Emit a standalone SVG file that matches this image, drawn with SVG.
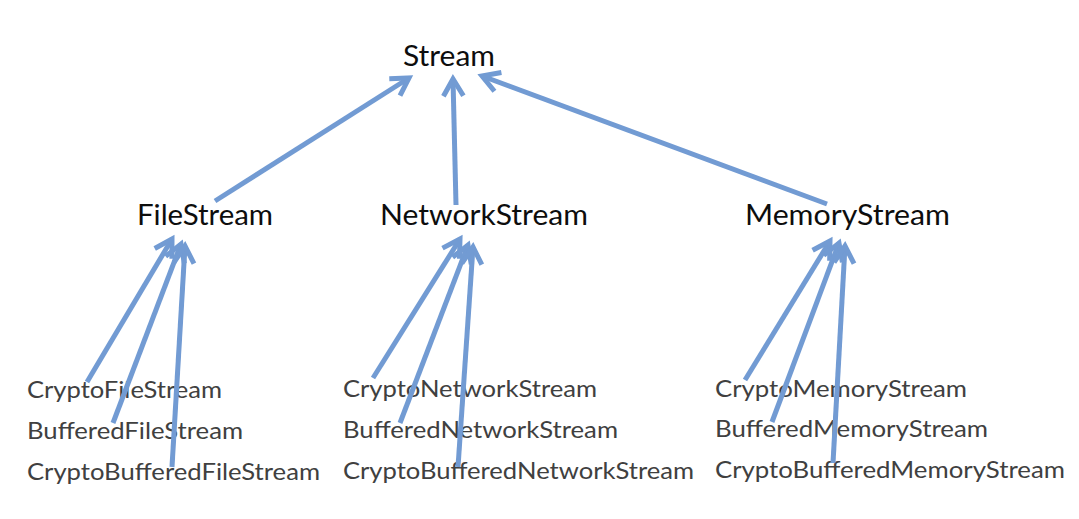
<svg xmlns="http://www.w3.org/2000/svg" width="1079" height="519" viewBox="0 0 1079 519">
<style>
text{font-family:Lato,"Liberation Sans",sans-serif}
.top{font-size:28px;fill:#0d0d0d}
.sub{font-size:23px;fill:#404040}
.c{stroke:#729bd3;stroke-width:5;fill:none;stroke-linecap:butt}
</style>
<defs>
<marker id="ah" markerUnits="userSpaceOnUse" markerWidth="30" markerHeight="30" viewBox="-22 -15 30 30" refX="0" refY="0" orient="auto">
<path d="M-17,-10 L0,0 L-17,10" fill="none" stroke="#729bd3" stroke-width="5" stroke-linejoin="miter"/>
</marker>
</defs>
<rect width="1079" height="519" fill="#ffffff"/>
<g id="stream"><text class="top" x="403" y="66" textLength="92" lengthAdjust="spacingAndGlyphs">Stream</text></g>
<g id="filestream"><text class="top" x="137" y="225" textLength="136" lengthAdjust="spacingAndGlyphs">FileStream</text></g>
<g id="networkstream"><text class="top" x="380" y="225" textLength="208" lengthAdjust="spacingAndGlyphs">NetworkStream</text></g>
<g id="memorystream"><text class="top" x="745" y="225" textLength="205" lengthAdjust="spacingAndGlyphs">MemoryStream</text></g>
<g id="cryptofilestream"><text class="sub" x="27" y="398" textLength="195" lengthAdjust="spacingAndGlyphs">CryptoFileStream</text></g>
<g id="bufferedfilestream"><text class="sub" x="27" y="439" textLength="216" lengthAdjust="spacingAndGlyphs">BufferedFileStream</text></g>
<g id="cryptobufferedfilestream"><text class="sub" x="27" y="480" textLength="293" lengthAdjust="spacingAndGlyphs">CryptoBufferedFileStream</text></g>
<g id="cryptonetworkstream"><text class="sub" x="343" y="397" textLength="254" lengthAdjust="spacingAndGlyphs">CryptoNetworkStream</text></g>
<g id="bufferednetworkstream"><text class="sub" x="343" y="438" textLength="275" lengthAdjust="spacingAndGlyphs">BufferedNetworkStream</text></g>
<g id="cryptobufferednetworkstream"><text class="sub" x="343" y="479" textLength="351" lengthAdjust="spacingAndGlyphs">CryptoBufferedNetworkStream</text></g>
<g id="cryptomemorystream"><text class="sub" x="715" y="397" textLength="252" lengthAdjust="spacingAndGlyphs">CryptoMemoryStream</text></g>
<g id="bufferedmemorystream"><text class="sub" x="715" y="437" textLength="273" lengthAdjust="spacingAndGlyphs">BufferedMemoryStream</text></g>
<g id="cryptobufferedmemorystream"><text class="sub" x="715" y="478" textLength="350" lengthAdjust="spacingAndGlyphs">CryptoBufferedMemoryStream</text></g>
<g id="connectors">
<line class="c" x1="215" y1="201" x2="409" y2="78" marker-end="url(#ah)"/>
<line class="c" x1="456" y1="205" x2="453" y2="79" marker-end="url(#ah)"/>
<line class="c" x1="827" y1="204" x2="482" y2="76" marker-end="url(#ah)"/>
<line class="c" x1="87" y1="382" x2="172" y2="239" marker-end="url(#ah)"/>
<line class="c" x1="113" y1="423" x2="181" y2="244" marker-end="url(#ah)"/>
<line class="c" x1="172" y1="467" x2="185" y2="246" marker-end="url(#ah)"/>
<line class="c" x1="373" y1="378" x2="460" y2="239" marker-end="url(#ah)"/>
<line class="c" x1="400" y1="423" x2="468" y2="245" marker-end="url(#ah)"/>
<line class="c" x1="458" y1="467" x2="473" y2="247" marker-end="url(#ah)"/>
<line class="c" x1="745" y1="380" x2="830" y2="241" marker-end="url(#ah)"/>
<line class="c" x1="772" y1="422" x2="839" y2="243" marker-end="url(#ah)"/>
<line class="c" x1="833" y1="463" x2="845" y2="246" marker-end="url(#ah)"/>
</g>
</svg>
